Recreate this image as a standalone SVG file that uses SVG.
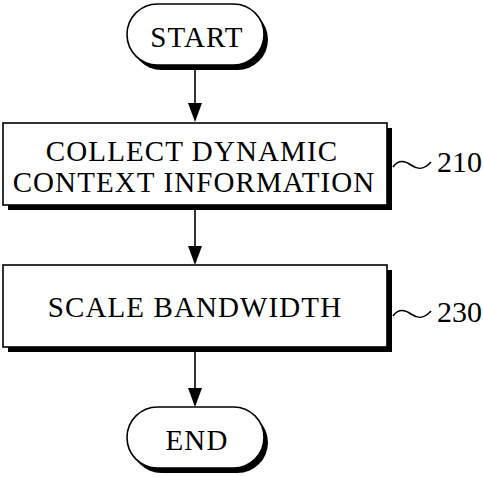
<svg xmlns="http://www.w3.org/2000/svg" width="483" height="477" viewBox="0 0 483 477">
<defs>
<style>
.t{font-family:"Liberation Serif","Times New Roman",serif;font-size:29px;letter-spacing:1.1px;fill:#000;text-anchor:middle}
.l{font-family:"Liberation Serif","Times New Roman",serif;font-size:30px;fill:#000}
.sh{fill:#000}
.bx{fill:#fff;stroke:#000;stroke-width:1.6}
.ln{stroke:#000;stroke-width:1.6;fill:none}
.ah{fill:#000}
</style>
</defs>
<g id="connectors">
<line class="ln" x1="195" y1="67" x2="195" y2="104"/>
<path class="ah" d="M188,103 L202,103 L195,122 Z"/>
<line class="ln" x1="195" y1="210" x2="195" y2="247"/>
<path class="ah" d="M188,246 L202,246 L195,265 Z"/>
<line class="ln" x1="195" y1="352" x2="195" y2="389"/>
<path class="ah" d="M188,388 L202,388 L195,407 Z"/>
</g>
<g id="start">
<rect class="sh" x="131" y="9" width="137" height="61" rx="30.5"/>
<rect class="bx" x="127" y="4" width="137" height="61" rx="30.5"/>
<text class="t" x="197" y="47">START</text>
</g>
<g id="n210">
<rect class="sh" x="8" y="128" width="384" height="82"/>
<rect class="bx" x="3" y="123" width="384" height="82"/>
<text class="t" x="192" y="161">COLLECT DYNAMIC</text>
<text class="t" x="194" y="192">CONTEXT INFORMATION</text>
<path class="ln" d="M393,167 C398,160 404,160 411,165 S424,170 431,162"/>
<text class="l" x="437" y="172">210</text>
</g>
<g id="n230">
<rect class="sh" x="8" y="270" width="384" height="82"/>
<rect class="bx" x="3" y="265" width="384" height="82"/>
<text class="t" x="195" y="317">SCALE BANDWIDTH</text>
<path class="ln" d="M393,316 C398,309 404,309 411,314 S424,319 431,311"/>
<text class="l" x="437" y="322">230</text>
</g>
<g id="end">
<rect class="sh" x="131" y="412" width="137" height="61" rx="30.5"/>
<rect class="bx" x="127" y="407" width="137" height="61" rx="30.5"/>
<text class="t" x="197" y="450">END</text>
</g>
</svg>
